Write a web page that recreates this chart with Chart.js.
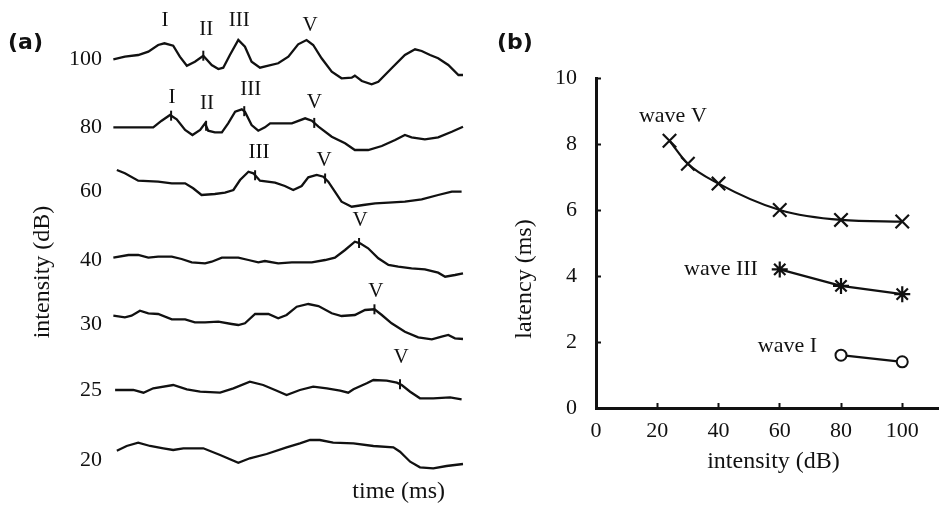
<!DOCTYPE html>
<html><head><meta charset="utf-8">
<script src="https://cdn.jsdelivr.net/npm/chart.js@4.4.1/dist/chart.umd.min.js"></script>
<style>
html,body{margin:0;padding:0;background:#fff;}
#wrap{position:relative;width:939px;height:506px;overflow:hidden;background:#fff;}
#ca{position:absolute;left:0;top:0;}
#cb{position:absolute;left:480px;top:0;}
.pre{position:absolute;left:-999px;top:-999px;font-family:"Liberation Serif";font-size:22px;}
</style></head><body>
<div class="pre">intensity 0123456789 IV</div>
<div id="wrap"><canvas id="ca" width="480" height="506"></canvas><canvas id="cb" width="459" height="506"></canvas></div>
<script>
// ---------- DATA: panel (a) ABR traces, [time (ms), amplitude] ----------
const intensityLabels = ['100', '80', '60', '40', '30', '25', '20'];
const trace100 = [[0.01,-0.03],[0.34,0.23],[0.72,0.40],[1.01,0.73],[1.29,1.40],[1.47,1.57],[1.72,1.33],[1.91,0.23],[2.11,-0.67],[2.34,-0.27],[2.58,0.33],[2.82,-0.60],[3.01,-1.00],[3.15,-0.87],[3.34,0.40],[3.58,1.90],[3.77,1.23],[3.96,-0.27],[4.20,-0.87],[4.44,-0.67],[4.72,-0.43],[5.01,0.23],[5.29,1.47],[5.53,1.90],[5.72,1.40],[5.96,0.07],[6.25,-1.27],[6.53,-1.93],[6.82,-1.87],[6.91,-1.67],[7.11,-2.20],[7.39,-2.53],[7.58,-2.27],[7.96,-0.93],[8.34,0.40],[8.63,0.97],[8.82,0.80],[9.06,0.40],[9.29,0.07],[9.58,-0.60],[9.87,-1.60],[10.0,-1.60]];
const trace80 = [[0.01,-0.03],[1.15,-0.03],[1.39,0.63],[1.63,1.20],[1.82,0.77],[2.06,-0.30],[2.27,-0.80],[2.49,-0.30],[2.63,0.37],[2.72,-0.37],[2.91,-0.53],[3.11,-0.53],[3.29,0.37],[3.49,1.53],[3.68,1.77],[3.77,1.53],[3.96,0.20],[4.15,-0.37],[4.34,-0.03],[4.49,0.37],[5.11,0.37],[5.49,0.87],[5.68,0.63],[5.87,0.03],[6.25,-0.97],[6.63,-1.63],[6.91,-2.30],[7.29,-2.30],[7.68,-1.90],[8.06,-1.30],[8.34,-0.80],[8.53,-1.03],[8.91,-1.23],[9.29,-1.03],[9.68,-0.47],[10.0,0.03]];
const trace60 = [[0.11,1.30],[0.34,0.97],[0.72,0.23],[1.29,0.13],[1.68,-0.03],[2.06,-0.03],[2.29,-0.53],[2.53,-1.20],[2.91,-1.10],[3.20,-0.97],[3.44,-0.70],[3.63,0.30],[3.87,1.13],[4.01,0.97],[4.20,0.23],[4.63,0.03],[4.91,-0.30],[5.15,-0.70],[5.39,-0.30],[5.58,0.57],[5.82,0.80],[6.01,0.63],[6.15,0.13],[6.34,-0.87],[6.53,-1.87],[6.82,-2.37],[7.15,-2.20],[7.49,-2.03],[7.87,-1.97],[8.34,-1.87],[8.82,-1.63],[9.29,-1.20],[9.68,-0.87],[9.96,-0.87]];
const trace40 = [[0.01,0.03],[0.44,0.30],[0.72,0.30],[1.01,0.03],[1.29,0.13],[1.68,0.13],[1.96,-0.10],[2.25,-0.43],[2.63,-0.53],[2.82,-0.37],[3.11,0.03],[3.58,0.03],[3.87,-0.20],[4.15,-0.43],[4.34,-0.30],[4.72,-0.53],[5.11,-0.43],[5.68,-0.43],[6.06,-0.20],[6.34,0.03],[6.63,0.80],[6.91,1.63],[7.06,1.47],[7.29,0.97],[7.58,-0.03],[7.87,-0.70],[8.15,-0.87],[8.53,-1.03],[8.91,-1.13],[9.29,-1.47],[9.49,-1.87],[9.77,-1.70],[10.0,-1.53]];
const trace30 = [[0.01,0.03],[0.34,-0.13],[0.53,0.03],[0.77,0.53],[1.01,0.27],[1.29,0.20],[1.68,-0.33],[2.06,-0.33],[2.34,-0.63],[2.63,-0.63],[3.01,-0.57],[3.39,-0.80],[3.58,-0.90],[3.77,-0.73],[4.06,0.20],[4.44,0.20],[4.72,-0.23],[4.96,0.10],[5.25,0.93],[5.58,1.20],[5.87,1.00],[6.25,0.27],[6.53,0.00],[6.91,0.10],[7.20,0.60],[7.47,0.67],[7.68,0.10],[7.96,-0.73],[8.34,-1.57],[8.72,-2.13],[9.11,-2.33],[9.39,-2.07],[9.58,-1.90],[9.77,-2.23],[10.0,-2.30]];
const trace25 = [[0.06,0.00],[0.58,0.00],[0.87,-0.27],[1.15,0.17],[1.72,0.50],[2.11,0.07],[2.49,-0.17],[3.06,-0.27],[3.44,0.17],[3.91,0.83],[4.29,0.50],[4.68,-0.07],[4.96,-0.50],[5.34,0.00],[5.72,0.33],[6.11,0.17],[6.49,-0.07],[6.72,-0.27],[6.87,0.07],[7.25,0.67],[7.44,1.00],[7.82,0.93],[8.11,0.73],[8.25,0.50],[8.49,-0.17],[8.77,-0.83],[9.15,-0.83],[9.63,-0.73],[9.96,-0.93]];
const trace20 = [[0.11,-0.07],[0.39,0.40],[0.72,0.73],[1.06,0.40],[1.44,0.17],[1.72,0.00],[2.01,0.17],[2.58,0.17],[3.06,-0.50],[3.58,-1.27],[3.91,-0.83],[4.39,-0.40],[4.96,0.27],[5.34,0.67],[5.63,1.00],[5.91,1.00],[6.29,0.73],[6.87,0.67],[7.44,0.40],[8.01,0.27],[8.20,-0.17],[8.49,-1.17],[8.77,-1.73],[9.15,-1.83],[9.53,-1.60],[10.0,-1.40]];
// wave peak marks on the traces: [wave name, time (ms)]
const marks100 = [['I',1.47],['II',2.58],['III',3.58],['V',5.66]];
const marks80 = [['I',1.66],['II',2.66],['III',3.75],['V',5.75]];
const marks60 = [['III',4.06],['V',6.06]];
const marks40 = [['V',7.03]];
const marks30 = [['V',7.47]];
const marks25 = [['V',8.2]];
const marks20 = [];

// ---------- DATA: panel (b) latency vs intensity ----------
const intensityV = [24, 30, 40, 60, 80, 100];
const latencyV = [8.1, 7.4, 6.8, 6.0, 5.7, 5.65];
const intensityIII = [60, 80, 100];
const latencyIII = [4.2, 3.7, 3.45];
const intensityI = [80, 100];
const latencyI = [1.6, 1.4];
const xTicksB = [0, 20, 40, 60, 80, 100];
const yTicksB = [0, 2, 4, 6, 8, 10];

// ---------- LAYOUT (positions, not data) ----------
const traces = [trace100, trace80, trace60, trace40, trace30, trace25, trace20];
const marks = [marks100, marks80, marks60, marks40, marks30, marks25, marks20];
const rowBase = [-5.9, -12.7, -18.3, -25.8, -31.6, -39.0, -45.0];
const rowLabel = [-5.93, -12.77, -19.17, -26.07, -32.4, -39.07, -46.07];
// label offsets (px) of wave names relative to their mark
const markLabelDy = [[-22.5, -26.6, -19.5, -17.5], [-18.5, -22, -22, -20.5], [-23, -18.5], [-22], [-17.5], [-27], []];
const markLabelDx = [[0.5, 3, 1, -1], [1, 1, 6.5, 0], [4, -1], [1], [1.5], [1], []];
const waveLabelPos = [
  {text: 'wave V', x: 25.1, y: 8.84},
  {text: 'wave III', x: 40.8, y: 4.2},
  {text: 'wave I', x: 62.5, y: 1.87}
];

const SERIF = '"Liberation Serif", "Times New Roman", serif';
const INK = '#111';

function interp(tr, t) {
  for (let i = 0; i < tr.length - 1; i++) {
    if (t >= tr[i][0] && t <= tr[i + 1][0]) {
      const f = (t - tr[i][0]) / (tr[i + 1][0] - tr[i][0]);
      return tr[i][1] + f * (tr[i + 1][1] - tr[i][1]);
    }
  }
  return tr[tr.length - 1][1];
}

function draw() {
  Chart.defaults.font.family = SERIF;
  Chart.defaults.color = INK;

  const dsA = [];
  traces.forEach((tr, k) => {
    dsA.push({
      data: tr.map(([t, a]) => ({x: t, y: rowBase[k] + a})),
      showLine: true, borderColor: INK, borderWidth: 2.3, pointRadius: 0,
      clip: false, tension: 0
    });
  });
  marks.forEach((mk, k) => {
    if (!mk.length) return;
    dsA.push({
      data: mk.map(([n, t]) => ({x: t, y: rowBase[k] + interp(traces[k], t)})),
      waveNames: mk.map(m => m[0]),
      row: k,
      showLine: false, pointStyle: 'line', rotation: 90, pointRadius: 5,
      pointBorderWidth: 2, borderColor: INK, backgroundColor: INK, clip: false
    });
  });

  const waveNamePlugin = {
    id: 'waveNames',
    afterDatasetsDraw(chart) {
      const ctx = chart.ctx;
      ctx.save();
      ctx.font = '21px ' + SERIF;
      ctx.fillStyle = INK;
      ctx.textAlign = 'center';
      ctx.textBaseline = 'middle';
      chart.data.datasets.forEach((ds, i) => {
        if (!ds.waveNames) return;
        chart.getDatasetMeta(i).data.forEach((pt, j) => {
          ctx.fillText(ds.waveNames[j], pt.x + markLabelDx[ds.row][j], pt.y + markLabelDy[ds.row][j]);
        });
      });
      ctx.restore();
    }
  };

  new Chart(document.getElementById('ca'), {
    type: 'scatter',
    data: {datasets: dsA},
    plugins: [waveNamePlugin],
    options: {
      responsive: false, animation: false, events: [],
      layout: {autoPadding: false, padding: {left: 8, right: 17, top: 0, bottom: 0}},
      plugins: {
        legend: {display: false}, tooltip: {enabled: false},
        title: {display: true, text: '(a)', align: 'start', color: INK,
          font: {family: '"DejaVu Sans", sans-serif', weight: 'bold', size: 22, lineHeight: 1.2},
          padding: {top: 30.5, bottom: 0.1}}
      },
      scales: {
        x: {type: 'linear', min: 0, max: 10,
          afterFit: s => { s.height = 19; s.paddingLeft = 0; s.paddingRight = 0; },
          ticks: {display: false}, grid: {display: false}, border: {display: false},
          title: {display: true, text: 'time (ms)   ', align: 'end', color: INK,
            font: {size: 24, lineHeight: 1.2}, padding: {top: 0, bottom: 0}}},
        y: {type: 'linear', min: -48.7, max: -5.7,
          afterFit: s => { s.width = 105; s.paddingTop = 0; s.paddingBottom = 0; },
          afterBuildTicks: s => { s.ticks = rowLabel.map(v => ({value: v})); },
          ticks: {autoSkip: false, padding: 3, color: INK, font: {size: 22},
            callback: (v) => { const i = rowLabel.indexOf(v); return i >= 0 ? intensityLabels[i] : ''; }},
          grid: {display: false}, border: {display: false},
          title: {display: true, text: 'intensity (dB)', color: INK,
            font: {size: 24, lineHeight: 1.2}, padding: {top: 20.6, bottom: 0}}}
      }
    }
  });

  const seriesLabelPlugin = {
    id: 'seriesLabels',
    afterDatasetsDraw(chart) {
      const ctx = chart.ctx, xs = chart.scales.x, ys = chart.scales.y;
      ctx.save();
      ctx.font = '22px ' + SERIF;
      ctx.fillStyle = INK;
      ctx.textAlign = 'center';
      ctx.textBaseline = 'middle';
      waveLabelPos.forEach(l => ctx.fillText(l.text, xs.getPixelForValue(l.x), ys.getPixelForValue(l.y)));
      ctx.restore();
    }
  };

  const axisGrid = {display: true, drawOnChartArea: false, drawTicks: true, tickLength: -5, tickWidth: 2, tickColor: INK};

  new Chart(document.getElementById('cb'), {
    type: 'scatter',
    data: {datasets: [
      {label: 'wave V', data: intensityV.map((x, i) => ({x, y: latencyV[i]})), showLine: true,
        cubicInterpolationMode: 'monotone', borderColor: INK, borderWidth: 2.2,
        pointStyle: 'crossRot', pointRadius: 9.5, pointBorderWidth: 2.2, pointBorderColor: INK, pointBackgroundColor: INK},
      {label: 'wave III', data: intensityIII.map((x, i) => ({x, y: latencyIII[i]})), showLine: true,
        borderColor: INK, borderWidth: 2.2,
        pointStyle: 'star', pointRadius: 8, pointBorderWidth: 2.2, pointBorderColor: INK, pointBackgroundColor: INK},
      {label: 'wave I', data: intensityI.map((x, i) => ({x, y: latencyI[i]})), showLine: true,
        borderColor: INK, borderWidth: 2.2,
        pointStyle: 'circle', pointRadius: 5.5, pointBorderWidth: 2, pointBorderColor: INK, pointBackgroundColor: '#fff'}
    ]},
    plugins: [seriesLabelPlugin],
    options: {
      responsive: false, animation: false, events: [],
      layout: {autoPadding: false, padding: {left: 17, right: 0, top: 0, bottom: 0}},
      plugins: {
        legend: {display: false}, tooltip: {enabled: false},
        title: {display: true, text: '(b)', align: 'start', color: INK,
          font: {family: '"DejaVu Sans", sans-serif', weight: 'bold', size: 22, lineHeight: 1.2},
          padding: {top: 30.5, bottom: 21.1}}
      },
      scales: {
        x: {type: 'linear', min: 0, max: 112,
          afterFit: s => { s.height = 98; s.paddingLeft = 0; s.paddingRight = 0; },
          afterBuildTicks: s => { s.ticks = xTicksB.map(v => ({value: v})); },
          ticks: {padding: 15, color: INK, font: {size: 22}},
          grid: axisGrid, border: {display: true, width: 3, color: INK},
          title: {display: true, text: '  intensity (dB)', color: INK,
            font: {size: 24, lineHeight: 1.2}, padding: {top: 0, bottom: 29.9}}},
        y: {type: 'linear', min: 0, max: 10,
          afterFit: s => { s.width = 99; s.paddingTop = 0; s.paddingBottom = 0; },
          afterBuildTicks: s => { s.ticks = yTicksB.map(v => ({value: v})); },
          ticks: {padding: 24, color: INK, font: {size: 22}},
          grid: axisGrid, border: {display: true, width: 3, color: INK},
          title: {display: true, text: 'latency (ms)' + ' '.repeat(12), color: INK,
            font: {size: 24, lineHeight: 1.2}, padding: {top: 13.6, bottom: 0}}}
      }
    }
  });
}

const fontReady = (document.fonts && document.fonts.load)
  ? Promise.all([
      document.fonts.load('22px "Liberation Serif"'),
      document.fonts.load('bold 22px "DejaVu Sans"')
    ]).catch(() => null)
  : Promise.resolve();
fontReady.then(draw);
</script>
</body></html>
